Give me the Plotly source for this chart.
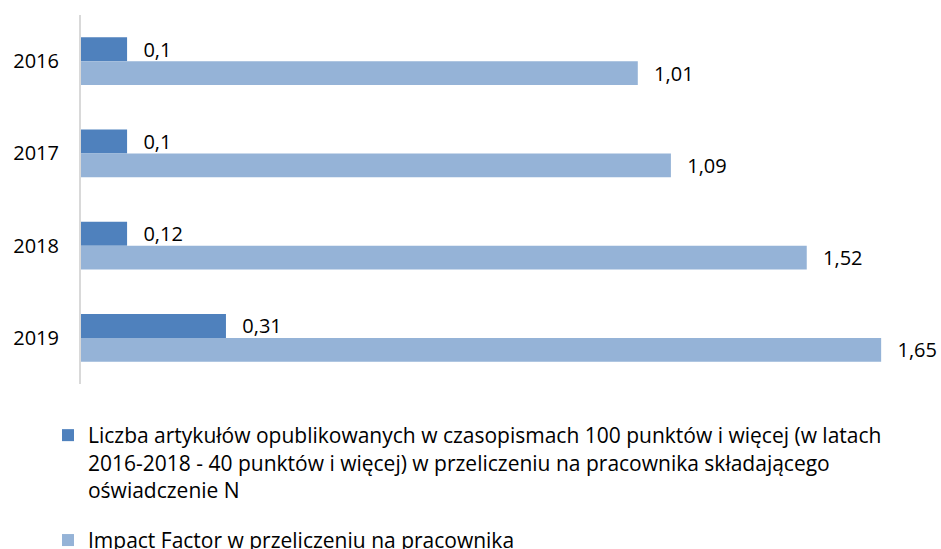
import plotly.graph_objects as go

years = ["2016", "2017", "2018", "2019"]
# bar lengths (in the chart's units)
articles_values = [0.096, 0.096, 0.096, 0.302]
impact_values = [1.160, 1.229, 1.512, 1.667]
# data labels as printed on the chart
articles_labels = ["0,1", "0,1", "0,12", "0,31"]
impact_labels = ["1,01", "1,09", "1,52", "1,65"]

series_names = [
    "Liczba artykułów opublikowanych w czasopismach 100 punktów i więcej (w latach<br>"
    "2016-2018 - 40 punktów i więcej) w przeliczeniu na pracownika składającego<br>"
    "oświadczenie N",
    "Impact Factor w przeliczeniu na pracownika",
]
colors = ["#4F81BD", "#95B3D7"]

FONT = "Open Sans"
GAP = "\u2002\u2009"  # small gap between bar end and its label

fig = go.Figure()
for i, (vals, labs) in enumerate(((articles_values, articles_labels), (impact_values, impact_labels))):
    fig.add_trace(go.Bar(
        y=years, x=vals, orientation="h", name=series_names[i],
        legendgroup=f"g{i}",
        marker=dict(color=colors[i], line=dict(width=0)),
        text=[GAP + t for t in labs], textposition="outside", cliponaxis=False,
        constraintext="none",
        outsidetextfont=dict(family=FONT, size=20, color="#000000"),
        hoverinfo="skip",
    ))

fig.update_layout(
    width=941, height=549,
    margin=dict(l=81, r=0, t=15, b=165, autoexpand=False),
    paper_bgcolor="white", plot_bgcolor="white",
    barmode="group", bargap=0.48, bargroupgap=0,
    font=dict(family=FONT, size=20, color="#000000"),
    xaxis=dict(range=[0, 1.7917], showgrid=False, zeroline=False, showticklabels=False,
               showline=False, ticks=""),
    yaxis=dict(type="category", categoryorder="array", categoryarray=years,
               autorange="reversed",
               showgrid=False, zeroline=False, showline=True, linecolor="#D9D9D9",
               linewidth=2, ticks="outside", ticklen=16, tickcolor="rgba(0,0,0,0)",
               tickfont=dict(family=FONT, size=20, color="#000000")),
    legend=dict(orientation="v", x=-0.0384, xanchor="left",
                yref="container", y=0.2441, yanchor="top",
                valign="top",
                font=dict(family=FONT, size=21, color="#000000"),
                tracegroupgap=20, bgcolor="rgba(0,0,0,0)"),
    showlegend=True,
)

fig.write_html(
    "out.html",
    config={"displayModeBar": False},
    post_script="document.body.style.margin='0';document.body.style.overflow='hidden';",
)
